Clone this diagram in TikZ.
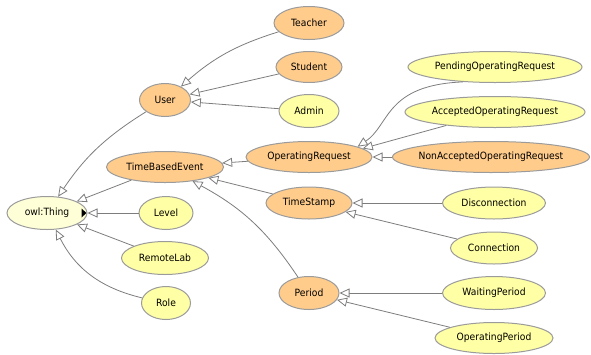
\documentclass[tikz,border=0pt]{standalone}
\usepackage{fontspec}
\setmainfont{DejaVu Sans}[FakeStretch=0.92]
\usetikzlibrary{shapes.geometric,arrows.meta}
\definecolor{orangecls}{RGB}{255,204,140}
\definecolor{yellowcls}{RGB}{255,255,165}
\definecolor{thingcls}{RGB}{255,255,215}
\definecolor{edgegray}{RGB}{125,125,125}
\definecolor{bordergray}{RGB}{155,155,155}
\tikzset{
  cls/.style={ellipse, draw=bordergray, line width=1pt, inner sep=0pt,
    font=\fontsize{11}{13}\selectfont},
  orng/.style={cls, fill=orangecls},
  yell/.style={cls, fill=yellowcls},
  thingst/.style={cls, fill=thingcls},
  isa/.style={draw=edgegray, line width=0.8pt,
    -{Triangle[open, length=10pt, width=9pt, fill=white]}},
}
\begin{document}
\begin{tikzpicture}[x=1pt, y=-1pt]
\useasboundingbox (0,0) rectangle (591,354);
% nodes
\node[thingst, minimum width=80, minimum height=33, label=center:owl:Thing] (thing) at (47,213) {};
\node[orng, minimum width=51, minimum height=33, label=center:User] (user) at (165,100) {};
\node[orng, minimum width=117, minimum height=31, label=center:TimeBasedEvent] (tbe) at (165,167) {};
\node[yell, minimum width=54, minimum height=33, label=center:Level] (level) at (166,213) {};
\node[yell, minimum width=87, minimum height=33, label=center:RemoteLab] (rlab) at (165,258) {};
\node[yell, minimum width=49, minimum height=33, label=center:Role] (role) at (166,303) {};
\node[orng, minimum width=70, minimum height=33, label=center:Teacher] (teacher) at (309,23) {};
\node[orng, minimum width=66, minimum height=31, label=center:Student] (student) at (309,67) {};
\node[yell, minimum width=60, minimum height=33, label=center:Admin] (admin) at (309,111) {};
\node[orng, minimum width=126, minimum height=31, label=center:OperatingRequest] (oreq) at (309,157) {};
\node[orng, minimum width=86, minimum height=32, label=center:TimeStamp] (tstamp) at (309,203) {};
\node[orng, minimum width=60, minimum height=33, label=center:Period] (period) at (309,293) {};
\node[yell, minimum width=174, minimum height=31, label=center:PendingOperatingRequest] (pend) at (495,67) {};
\node[yell, minimum width=180, minimum height=31, label=center:AcceptedOperatingRequest] (acc) at (495,112) {};
\node[orng, minimum width=197, minimum height=31, label=center:NonAcceptedOperatingRequest] (nacc) at (491,157) {};
\node[yell, minimum width=103, minimum height=32, label=center:Disconnection] (disc) at (494,203) {};
\node[yell, minimum width=87, minimum height=32, label=center:Connection] (conn) at (494,248) {};
\node[yell, minimum width=103, minimum height=33, label=center:WaitingPeriod] (wait) at (494,293) {};
\node[yell, minimum width=118, minimum height=31, label=center:OperatingPeriod] (opp) at (494,338) {};
% expand marker
\fill ([xshift=-6pt]thing.east) -- ++(0,-4.5) -- ++(5,4.5) -- ++(-5,4.5) -- cycle;
% edges
\draw[isa] (teacher) to[bend right=12] (user);
\draw[isa] (student) -- (user);
\draw[isa] (admin) -- (user);
\draw[isa] (user) to[bend right=12] (thing);
\draw[isa] (tbe) -- (thing);
\draw[isa] (level) -- (thing.east);
\draw[isa] (rlab) -- (thing);
\draw[isa] (role) to[bend left=25] (thing);
\draw[isa] (oreq) -- (tbe);
\draw[isa] (tstamp) -- (tbe);
\draw[isa] (period) to[bend right=14] (tbe);
\draw[isa] (pend.205) .. controls (385,85) and (390,125) .. (oreq.12);
\draw[isa] (acc) -- (oreq.9);
\draw[isa] (nacc) -- (oreq);
\draw[isa] (disc) -- (tstamp);
\draw[isa] (conn) -- (tstamp);
\draw[isa] (wait) -- (period);
\draw[isa] (opp) -- (period);
\end{tikzpicture}
\end{document}
